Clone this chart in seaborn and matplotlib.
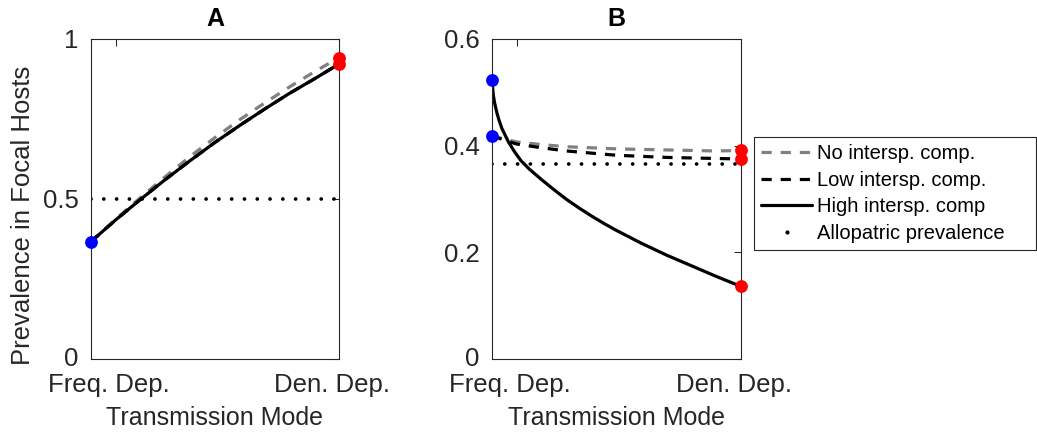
import matplotlib
matplotlib.use("Agg")
import matplotlib.pyplot as plt
from matplotlib.lines import Line2D
from matplotlib.transforms import ScaledTranslation
import seaborn as sns

# ---- panel A values ----
a_x = [0.0, 0.1, 0.2, 0.3, 0.4, 0.5, 0.6, 0.7, 0.8, 0.9, 1.0]
a_none = [0.367, 0.437, 0.505, 0.570, 0.633, 0.692, 0.748, 0.800, 0.850, 0.897, 0.942]
a_low = [0.367, 0.435, 0.499, 0.561, 0.620, 0.677, 0.730, 0.781, 0.830, 0.875, 0.922]
a_high = [0.367, 0.435, 0.499, 0.561, 0.620, 0.677, 0.730, 0.781, 0.830, 0.875, 0.922]
a_allo = 0.5
a_start = [0.367]
a_end = [0.942, 0.922]

# ---- panel B values ----
b_x = [0.0, 0.05, 0.1, 0.2, 0.3, 0.4, 0.5, 0.6, 0.7, 0.8, 0.9, 1.0]
b_none = [0.419, 0.412, 0.407, 0.402, 0.398, 0.396, 0.394, 0.393, 0.392, 0.391, 0.390, 0.391]
b_low = [0.419, 0.410, 0.403, 0.396, 0.390, 0.386, 0.382, 0.380, 0.378, 0.377, 0.376, 0.375]
b_x_high = [0.0, 0.005, 0.011, 0.02, 0.028, 0.04, 0.066, 0.09, 0.116, 0.15, 0.2, 0.25,
            0.3, 0.35, 0.4, 0.45, 0.5, 0.6, 0.7, 0.8, 0.9, 1.0]
b_high = [0.524, 0.495, 0.479, 0.461, 0.448, 0.432, 0.407, 0.389, 0.372, 0.356, 0.336,
          0.317, 0.299, 0.283, 0.268, 0.254, 0.241, 0.217, 0.195, 0.175, 0.155, 0.136]
b_allo = 0.366
b_start = [0.524, 0.419]
b_end = [0.391, 0.375, 0.136]

tick_pos = [0.1, 1.0]
tick_labels = ["Freq. Dep.", "Den. Dep."]
series_names = ["No intersp. comp.", "Low intersp. comp.", "High intersp. comp",
                "Allopatric prevalence"]

sns.set_theme(style="white")
plt.rcParams["font.family"] = ["Liberation Sans", "DejaVu Sans"]
plt.rcParams["text.color"] = "#262626"

GRAY = "#808080"
LW = 2.3
FS = 18.5
dash = (0, (3.2, 2.8))
dots = (0, (0.01, 3.4))

fig = plt.figure(figsize=(10.37, 4.34), dpi=100)
ax_a = fig.add_axes([91 / 1037, 75 / 434, 248 / 1037, 320 / 434])
ax_b = fig.add_axes([492 / 1037, 75 / 434, 249 / 1037, 320 / 434])


def draw(ax, x, none, low, xh, high, allo, start, end):
    sns.lineplot(x=[0, 1], y=[allo, allo], ax=ax, color="black", lw=2.7,
                 linestyle=dots, dash_capstyle="round")
    sns.lineplot(x=x, y=none, ax=ax, color=GRAY, lw=LW, linestyle=dash)
    sns.lineplot(x=x, y=low, ax=ax, color="black", lw=LW, linestyle=dash)
    sns.lineplot(x=xh, y=high, ax=ax, color="black", lw=LW,
                 solid_joinstyle="round")
    sns.scatterplot(x=[0] * len(start), y=start, ax=ax, color="#0000ff", s=85,
                    linewidth=0, clip_on=False, zorder=5)
    sns.scatterplot(x=[1] * len(end), y=end, ax=ax, color="#ff0000", s=85,
                    linewidth=0, clip_on=False, zorder=5)
    ax.set_xlim(0, 1)
    ax.set_xticks(tick_pos)
    ax.set_xticklabels(tick_labels)
    ax.set_xlabel("Transmission Mode", fontsize=FS - 0.5, color="#262626", labelpad=6.5)
    ax.tick_params(direction="in", length=5, width=0.75, top=True, right=True,
                   colors="#262626", labelsize=FS, pad=9)
    ax.tick_params(axis="x", pad=10)
    for sp in ax.spines.values():
        sp.set_visible(True)
        sp.set_color("#262626")
        sp.set_linewidth(0.8)
    for lab in ax.get_xticklabels():
        lab.set_transform(lab.get_transform() +
                          ScaledTranslation(-7 / 100, 0, fig.dpi_scale_trans))
    # nudge the bottom "0" label up a little so it clears "Freq. Dep."
    first = ax.get_yticklabels()[0]
    first.set_transform(first.get_transform() +
                        ScaledTranslation(0, 3 / 100, fig.dpi_scale_trans))


ax_a.set_ylim(0, 1)
ax_a.set_yticks([0, 0.5, 1])
ax_a.set_yticklabels(["0", "0.5", "1"])
draw(ax_a, a_x, a_none, a_low, a_x, a_high, a_allo, a_start, a_end)
ax_a.set_ylabel("Prevalence in Focal Hosts", fontsize=FS, color="#262626")
ax_a.yaxis.set_label_coords(-0.225, 0.45)
ax_a.set_title("A", fontsize=18, fontweight="bold", color="black", pad=9)

ax_b.set_ylim(0, 0.6)
ax_b.set_yticks([0, 0.2, 0.4, 0.6])
ax_b.set_yticklabels(["0", "0.2", "0.4", "0.6"])
draw(ax_b, b_x, b_none, b_low, b_x_high, b_high, b_allo, b_start, b_end)
ax_b.set_ylabel("")
ax_b.set_title("B", fontsize=18, fontweight="bold", color="black", pad=9)

handles = [
    Line2D([], [], color=GRAY, lw=LW, linestyle=dash),
    Line2D([], [], color="black", lw=LW, linestyle=dash),
    Line2D([], [], color="black", lw=LW),
    Line2D([], [], color="black", linestyle="none", marker=".", markersize=4),
]
leg = fig.legend(handles, series_names, loc="upper left",
                 bbox_to_anchor=(754 / 1037, 1 - 248 / 434, 282 / 1037, 111 / 434),
                 mode="expand", fontsize=14.5,
                 frameon=True, fancybox=False, framealpha=1, edgecolor="#262626",
                 handlelength=2.5, handletextpad=0.25, labelspacing=0.37,
                 borderpad=0.37, borderaxespad=0)
leg.get_frame().set_linewidth(0.8)
for t in leg.get_texts():
    t.set_color("black")

fig.savefig("out.png", dpi=100)
